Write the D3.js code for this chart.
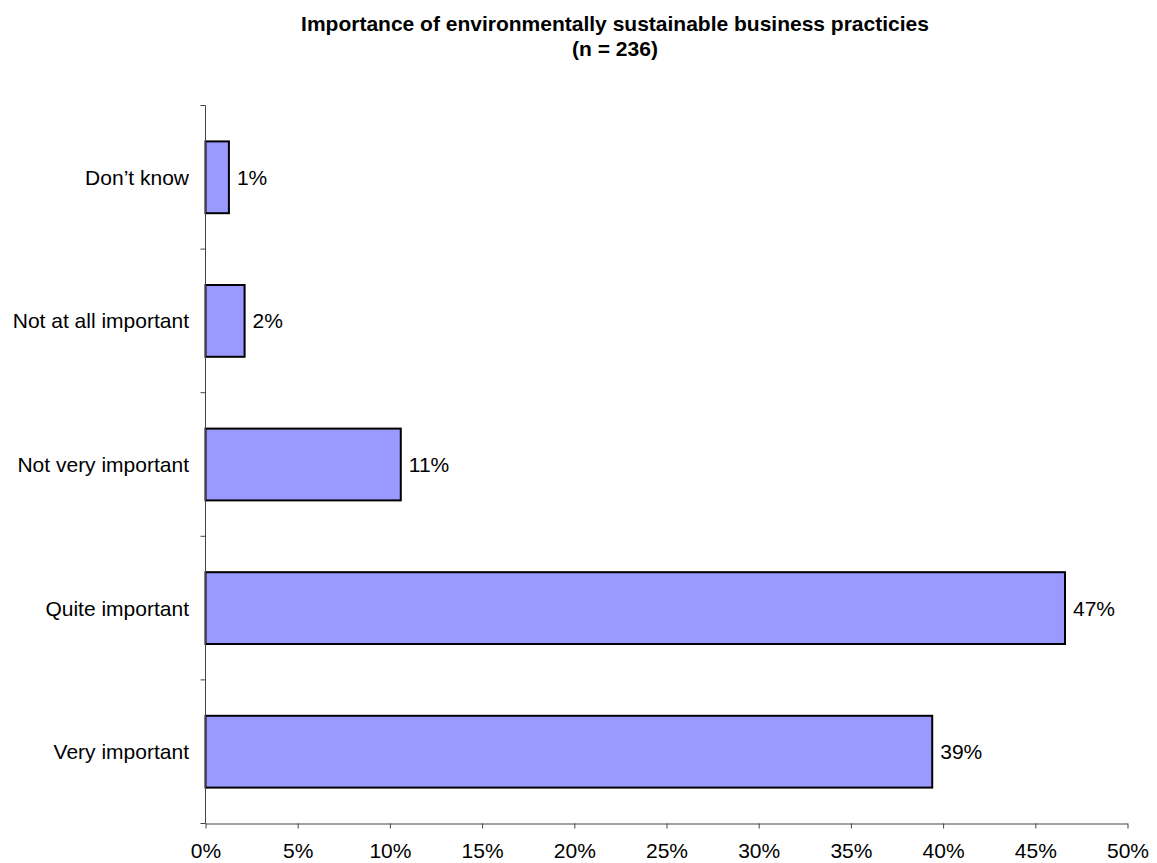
<!DOCTYPE html>
<html><head><meta charset="utf-8">
<script src="https://cdn.jsdelivr.net/npm/d3@7"></script>
<style>body{margin:0;background:#fff;} text{font-family:"Liberation Sans",Arial,sans-serif;}</style>
</head><body>
<svg id="c" width="1157" height="863"></svg>
<script>
const categories = ["Don\u2019t know","Not at all important","Not very important","Quite important","Very important"];
const values = [1.27, 2.12, 10.59, 46.61, 39.41];
const valueLabels = ["1%","2%","11%","47%","39%"];
const xTicks = [0,5,10,15,20,25,30,35,40,45,50];
const titleLines = ["Importance of environmentally sustainable business practicies","(n = 236)"];

const svg = d3.select("#c");
const mL = 205.5, mR = 1127.5, mT = 105.5, mB = 823.5;
const FS = 21;
const x = d3.scaleLinear().domain([0,50]).range([mL,mR]);
const y = d3.scaleBand().domain(categories).range([mT,mB]).paddingInner(0.5).paddingOuter(0.25);

svg.selectAll("text.title").data(titleLines).join("text").attr("class","title")
  .attr("x", 615).attr("y",(d,i)=>31+i*25).attr("text-anchor","middle")
  .attr("font-size",FS).attr("font-weight","bold").text(d=>d);

// bars
svg.selectAll("rect.bar").data(categories).join("rect").attr("class","bar")
  .attr("x", x(0)).attr("y", d=>y(d))
  .attr("width",(d,i)=>x(values[i])-x(0)).attr("height", y.bandwidth())
  .attr("fill","#9999ff").attr("stroke","#000").attr("stroke-width",2);

// y axis
const yAxisG = svg.append("g");
yAxisG.append("line").attr("x1",mL).attr("x2",mL).attr("y1",mT).attr("y2",mB).attr("stroke","#444");
const step = y.step();
const yTickPos = d3.range(categories.length+1).map(i=>mT+i*step);
yAxisG.selectAll("line.t").data(yTickPos).join("line").attr("class","t")
  .attr("x1",mL-5).attr("x2",mL).attr("y1",d=>d).attr("y2",d=>d).attr("stroke","#444");
svg.selectAll("text.cat").data(categories).join("text").attr("class","cat")
  .attr("x",189).attr("y",d=>y(d)+y.bandwidth()/2).attr("dy","0.36em")
  .attr("text-anchor","end").attr("font-size",FS).text(d=>d);

// x axis
const xAxis = d3.axisBottom(x).tickValues(xTicks).tickFormat(d=>d+"%").tickSize(5).tickSizeOuter(0);
const xg = svg.append("g").attr("transform",`translate(0,${mB})`).call(xAxis);
xg.select(".domain").attr("stroke","#444");
xg.selectAll(".tick line").attr("stroke","#444");
xg.selectAll(".tick text").attr("font-size",FS).attr("fill","#000").attr("y",34).attr("dy",0)
  .attr("font-family","Liberation Sans, Arial, sans-serif");

// value labels
svg.selectAll("text.val").data(categories).join("text").attr("class","val")
  .attr("x",(d,i)=>x(values[i])+8).attr("y",d=>y(d)+y.bandwidth()/2).attr("dy","0.36em")
  .attr("font-size",FS).text((d,i)=>valueLabels[i]);
</script>
</body></html>
